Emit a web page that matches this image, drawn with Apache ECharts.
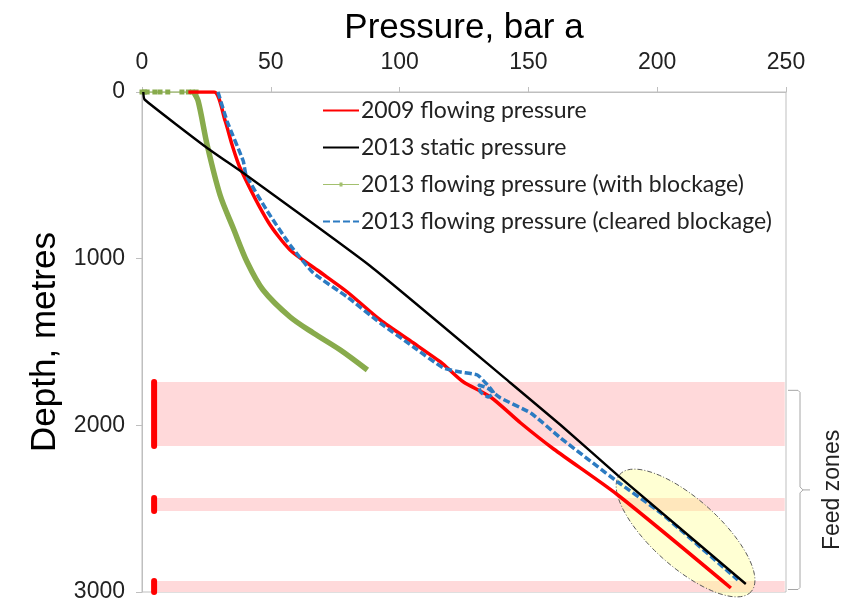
<!DOCTYPE html>
<html><head><meta charset="utf-8">
<script src="https://cdn.jsdelivr.net/npm/echarts@6/dist/echarts.min.js"></script>
<style>html,body{margin:0;padding:0;background:#fff}#c{width:844px;height:603px}</style>
</head><body><div id="c"></div>
<script>
// ---- data (pressure bar a, depth m) ----
const pressureRange = [0, 250];
const pressureStep = 50;
const depthRange = [0, 3000];
const depthStep = 1000;
const names = ['2009 flowing pressure', '2013 static pressure', '2013 flowing pressure (with blockage)', '2013 flowing pressure (cleared blockage)'];
const flow2009 = [[18,0],[28,0],[32.3,174],[35,318],[38.1,456],[49,780],[57.5,948],[68,1068],[79.7,1200],[92.5,1368],[105.4,1506],[115.9,1620],[118.6,1656],[124.8,1740],[135.3,1830],[147,1986],[159.8,2142],[184.7,2418],[228.6,2976]];
const static2013 = [[0.5,0],[1,45],[25.3,336],[40.4,498],[88.6,1044],[143.1,1746],[162.5,1998],[184.7,2300],[234.4,2952]];
const blockedTop = [[0,0],[1,0],[2,0],[5,0],[7,0],[10,0],[15.5,0],[18,0],[19.5,0],[21,0]];
const blocked2013 = [[20,0],[21.8,54],[25.3,318],[30.3,618],[35.4,816],[40.8,1020],[47,1188],[57.5,1350],[66.5,1446],[77,1548],[87.5,1668]];
const cleared2013 = [[29.5,0],[33,174],[39.3,414],[40.4,498],[48.6,714],[57.5,918],[66.5,1086],[79.7,1230],[92.5,1386],[105.4,1530],[117,1656],[123.6,1680],[130.2,1698],[133.4,1746],[136.5,1806],[134.5,1830],[131.4,1800],[130.6,1758],[134.1,1776],[139.2,1836],[150.9,1926],[162.5,2076],[184.7,2340],[201.4,2526],[231.3,2928]];
const feedZones = [[1740,2124],[2436,2514],[2934,3000]];
const feedMarkerP = 4.7;
const bandP = [4.7, 249.5];
const bracketDepth = [1790, 2985];
const ellipseCentre = [211, 2646];

const chart = echarts.init(document.getElementById('c'));
const axisGray = '#bfbfbf';
const feedSeries = feedZones.map((z, i) => ({
  name: 'feed' + i, type: 'line', data: [[feedMarkerP, z[0]], [feedMarkerP, z[1]]],
  symbol: 'none', z: 4, silent: true,
  lineStyle: { color: '#ff0000', width: 6, cap: 'round' }
}));
const noSym = { opacity: 0 };
const greenIcon = 'path://M0,0L0.01,0L0.01,0.01Z M0,14L0.01,14L0.01,13.99Z M0,6.4L36,6.4L36,7.6L0,7.6Z M16.5,5L19.5,5L19.5,9L16.5,9Z';
chart.setOption({
  animation: false,
  grid: { left: 142, right: 58, top: 92, bottom: 11, outerBoundsMode: 'none', containLabel: false,
          show: true, borderColor: axisGray, borderWidth: 1, backgroundColor: 'transparent' },
  xAxis: {
    type: 'value', position: 'top', min: pressureRange[0], max: pressureRange[1], interval: pressureStep,
    name: 'Pressure, bar a', nameLocation: 'middle', nameGap: 44,
    nameTextStyle: { fontFamily: 'Liberation Sans', fontSize: 35, color: '#000' },
    axisLine: { show: true, lineStyle: { color: axisGray, width: 1 } },
    axisTick: { show: true, length: 5, lineStyle: { color: axisGray } },
    axisLabel: { fontFamily: 'Liberation Sans', fontSize: 23, color: '#222', margin: 18, formatter: v => String(v) },
    splitLine: { show: false }
  },
  yAxis: {
    type: 'value', inverse: true, min: depthRange[0], max: depthRange[1], interval: depthStep,
    name: 'Depth, metres', nameLocation: 'middle', nameGap: 73,
    nameTextStyle: { fontFamily: 'Liberation Sans', fontSize: 35, color: '#000' },
    axisLine: { show: true, lineStyle: { color: axisGray, width: 1 } },
    axisTick: { show: true, length: 6, lineStyle: { color: axisGray } },
    axisLabel: { fontFamily: 'Liberation Sans', fontSize: 23, color: '#222', margin: 17, formatter: v => String(v) },
    splitLine: { show: false }
  },
  legend: {
    orient: 'vertical', left: 322, top: 99, padding: 0, itemGap: 14,
    itemWidth: 36, itemHeight: 14, selectedMode: false,
    textStyle: { fontFamily: 'Lato', fontSize: 23, color: '#222', padding: [0, 0, 0, -3] },
    data: [
      { name: names[0], itemStyle: noSym },
      { name: names[1], itemStyle: noSym },
      { name: names[2], icon: greenIcon, itemStyle: { color: '#a3c06e' } },
      { name: names[3], itemStyle: noSym }
    ]
  },
  series: [
    { name: 'bands', type: 'line', data: [], z: 1, silent: true,
      markArea: { silent: true, itemStyle: { color: '#ffd9da' },
        data: feedZones.map(z => [{ coord: [bandP[0], z[0]] }, { coord: [bandP[1], z[1]] }]) } },
    ...feedSeries,
    { name: names[2], type: 'line', data: blocked2013, z: 5, symbol: 'none', smooth: 0.3,
      itemStyle: { color: '#88ab4c' }, lineStyle: { color: '#88ab4c', width: 5.5 } },
    { name: 'greenTop', type: 'line', data: blockedTop, z: 5, symbol: 'rect', symbolSize: 5, showSymbol: true,
      itemStyle: { color: '#88ab4c' }, lineStyle: { color: '#a9c47a', width: 1.5 } },
    { name: names[0], type: 'line', data: flow2009, z: 6, symbol: 'none', smooth: 0.25,
      itemStyle: { color: '#ff0000' }, lineStyle: { color: '#ff0000', width: 3.5 } },
    { name: names[3], type: 'line', data: cleared2013, z: 7, symbol: 'none', smooth: 0.15,
      itemStyle: { color: '#2c7bc2' }, lineStyle: { color: '#2c7bc2', width: 3.5, type: [7, 3] } },
    { name: names[1], type: 'line', data: static2013, z: 8, symbol: 'none', smooth: 0.15,
      itemStyle: { color: '#000' }, lineStyle: { color: '#000', width: 2.4 } }
  ]
});

// annotations: ellipse and feed-zone bracket
const c = chart.convertToPixel({ gridIndex: 0 }, ellipseCentre);
const a = 88, b = 34, th = 41.8 * Math.PI / 180;
const pts = [];
for (let i = 0; i < 96; i++) {
  const t = i / 96 * Math.PI * 2;
  pts.push([c[0] + a * Math.cos(th) * Math.cos(t) - b * Math.sin(th) * Math.sin(t),
            c[1] + a * Math.sin(th) * Math.cos(t) + b * Math.cos(th) * Math.sin(t)]);
}
const yTop = chart.convertToPixel({ yAxisIndex: 0 }, bracketDepth[0]);
const yBot = chart.convertToPixel({ yAxisIndex: 0 }, bracketDepth[1]);
const yMid = (yTop + yBot) / 2;
const xR = chart.convertToPixel({ xAxisIndex: 0 }, pressureRange[1]);
const bx = xR + 14, bl = xR + 2;
const brk = '#a6a6a6';
chart.setOption({
  graphic: [
    { type: 'polygon', z: 3, silent: true, shape: { points: pts },
      style: { fill: 'rgba(255,255,140,0.38)', stroke: '#5a5a5a', lineWidth: 1, lineDash: [5, 2, 1, 2] } },
    { type: 'polyline', z: 10, silent: true,
      shape: { points: [[bl, yTop], [bx - 2, yTop], [bx, yTop + 2], [bx, yMid - 3], [bx + 3, yMid], [bx, yMid + 3], [bx, yBot - 2], [bx - 2, yBot], [bl, yBot]] },
      style: { stroke: brk, lineWidth: 1, fill: null } },
    { type: 'line', z: 10, silent: true, shape: { x1: bx + 3, y1: yMid, x2: bx + 10, y2: yMid }, style: { stroke: brk, lineWidth: 1 } },
    { type: 'text', z: 10, silent: true, x: 833, y: yMid, rotation: Math.PI / 2,
      style: { text: 'Feed zones', font: '23px "Liberation Sans"', fill: '#222', textAlign: 'center', textVerticalAlign: 'middle' } }
  ]
});
</script></body></html>
